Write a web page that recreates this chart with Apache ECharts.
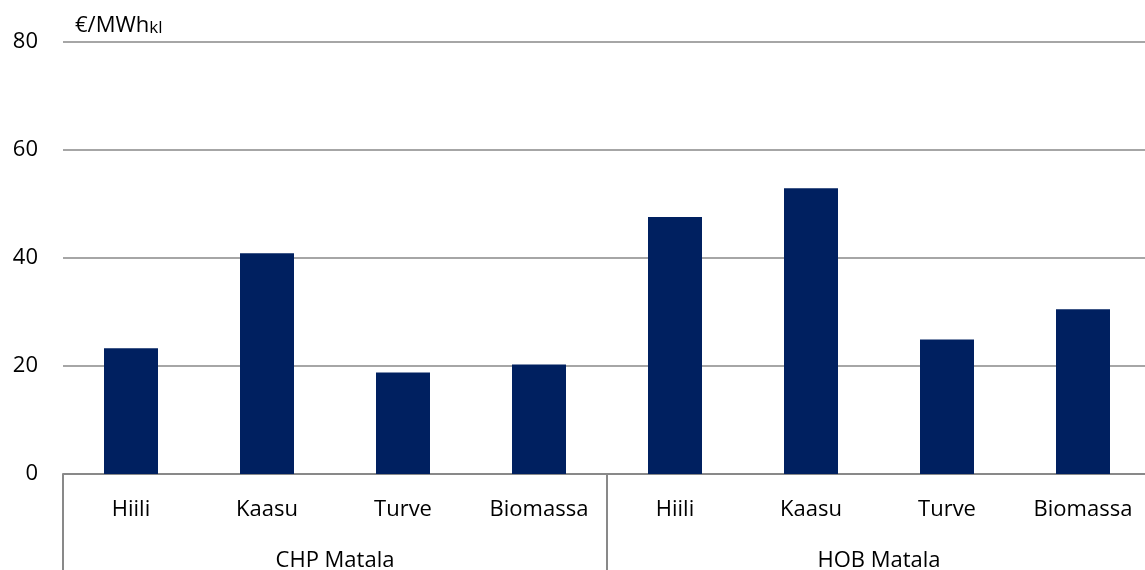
<!DOCTYPE html>
<html>
<head>
<meta charset="utf-8">
<script src="https://cdn.jsdelivr.net/npm/echarts@6/dist/echarts.min.js"></script>
<style>html,body{margin:0;padding:0;background:#fff}#c{width:1145px;height:570px}</style>
</head>
<body>
<div id="c"></div>
<script>
const categories = ['Hiili', 'Kaasu', 'Turve', 'Biomassa', 'Hiili', 'Kaasu', 'Turve', 'Biomassa'];
const groups = ['CHP Matala', 'HOB Matala'];
const values = [23.3, 40.9, 18.8, 20.3, 47.6, 52.9, 24.9, 30.5];
const yTicks = [0, 20, 40, 60, 80];
const unitLabel = '€/MWh';
const unitSub = 'kl';

const FONT = '"Open Sans", sans-serif';
const chart = echarts.init(document.getElementById('c'));
chart.setOption({
  animation: false,
  grid: { left: 63, width: 1088, top: 42, bottom: 96, containLabel: false, outerBoundsMode: 'none' },
  xAxis: [
    {
      type: 'category', data: categories, position: 'bottom',
      axisLine: { show: true, lineStyle: { color: '#898989', width: 2 } },
      axisTick: { show: false },
      axisLabel: { margin: 25, fontSize: 22, color: '#000', fontFamily: FONT }
    },
    {
      type: 'category', data: groups, position: 'bottom', offset: 0,
      axisLine: { show: false },
      axisTick: { show: true, length: 100, lineStyle: { color: '#898989', width: 2 } },
      axisLabel: { margin: 76, fontSize: 22, color: '#000', fontFamily: FONT }
    }
  ],
  yAxis: {
    type: 'value', min: yTicks[0], max: yTicks[yTicks.length - 1], interval: 20,
    axisLine: { show: false }, axisTick: { show: false },
    splitLine: { lineStyle: { color: '#898989', width: 1.5 } },
    axisLabel: { margin: 25, fontSize: 22, color: '#000', fontFamily: FONT }
  },
  graphic: [{
    type: 'text', left: 75, top: 15,
    style: {
      text: '{a|' + unitLabel + '}{b|' + unitSub + '}',
      rich: {
        a: { fontSize: 22, fontFamily: FONT, fill: '#000', verticalAlign: 'bottom', lineHeight: 28 },
        b: { fontSize: 17, fontFamily: FONT, fill: '#000', verticalAlign: 'bottom', lineHeight: 27 }
      }
    }
  }],
  series: [{
    type: 'bar', xAxisIndex: 0, data: values, barWidth: 54,
    itemStyle: { color: '#002060' }
  }]
});
</script>
</body>
</html>
